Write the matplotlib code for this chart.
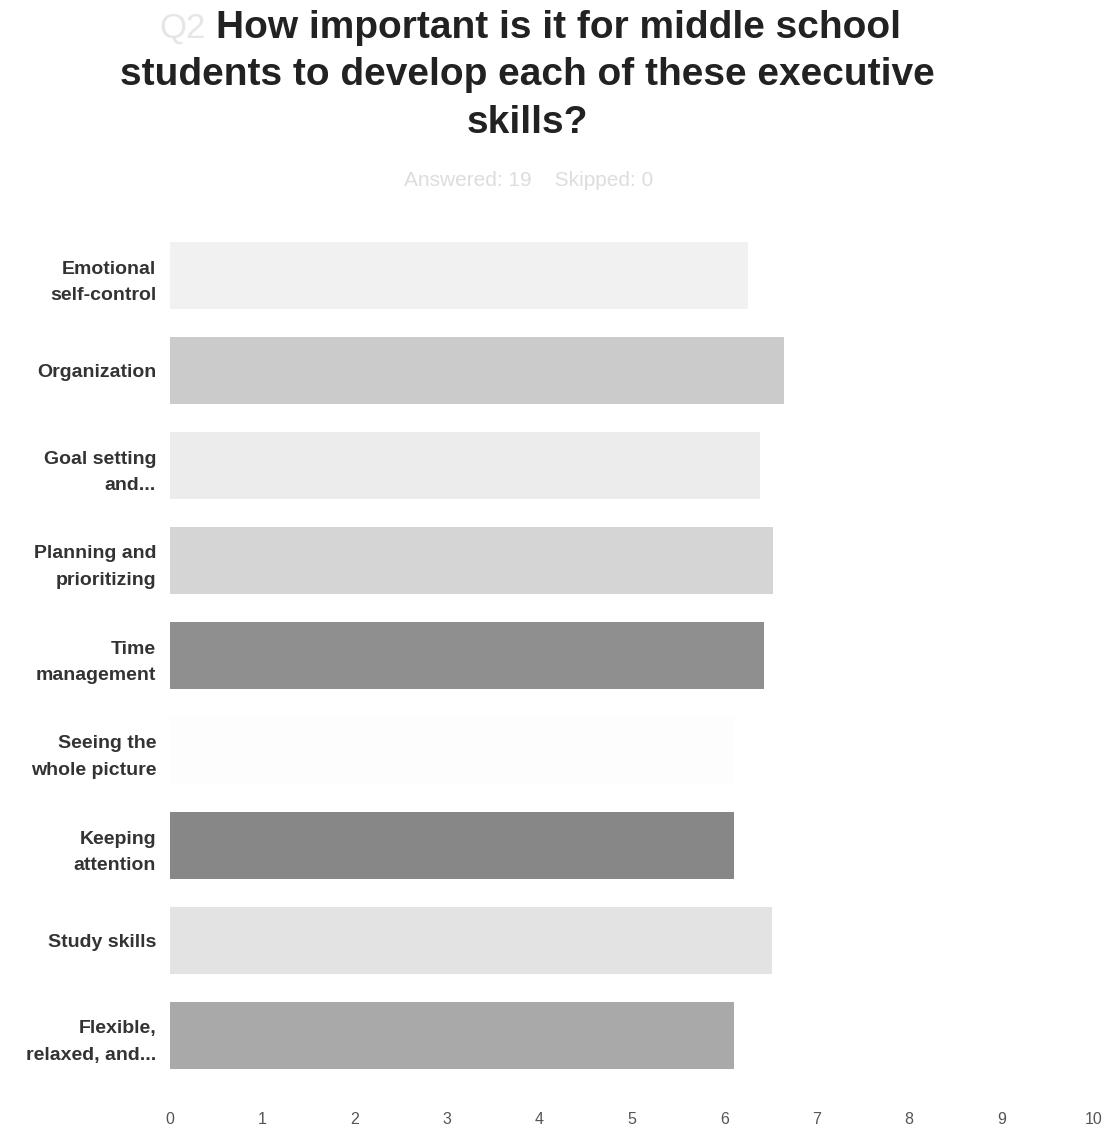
import matplotlib
matplotlib.use("Agg")
import matplotlib.pyplot as plt

categories = ["Emotional\nself-control", "Organization", "Goal setting\nand...",
              "Planning and\nprioritizing", "Time\nmanagement", "Seeing the\nwhole picture",
              "Keeping\nattention", "Study skills", "Flexible,\nrelaxed, and..."]
values = [6.25, 6.64, 6.38, 6.53, 6.43, 6.10, 6.10, 6.52, 6.10]
colors = ["#f1f1f1", "#cbcbcb", "#ececec", "#d5d5d5", "#8f8f8f", "#fdfdfd",
          "#878787", "#e3e3e3", "#a9a9a9"]
xticks = [0, 1, 2, 3, 4, 5, 6, 7, 8, 9, 10]

plt.rcParams['font.family'] = ['Liberation Sans', 'DejaVu Sans']

W, H = 1113, 1129
fig = plt.figure(figsize=(W / 100, H / 100), dpi=100)
ax = fig.add_axes([170 / W, 1 - 1083 / H, (1094 - 170) / W, (1083 - 228) / H])

y = list(range(len(categories)))
ax.barh(y, values, height=0.7, color=colors, edgecolor='none')
ax.set_ylim(len(categories) - 0.5, -0.5)
ax.set_xlim(0, 10)
ax.set_yticks(y)
ax.set_yticklabels(categories, fontsize=14, fontweight='bold', color='#333333',
                   linespacing=1.75)
ax.set_xticks(xticks)
ax.set_xticklabels([str(t) for t in xticks], fontsize=11.5, color='#555555')
ax.tick_params(axis='y', length=0, pad=10)
ax.tick_params(axis='x', length=0, pad=21)
for s in ax.spines.values():
    s.set_visible(False)

# title
fig.text(559 / W, 1 - 28 / H, "How important is it for middle school", ha='center', va='center',
         fontsize=28, fontweight='bold', color='#222222')
fig.text(183 / W, 1 - 28 / H, "Q2", ha='center', va='center', fontsize=25, color='#e6e6e6')
fig.text(527 / W, 1 - 75 / H, "students to develop each of these executive", ha='center',
         va='center', fontsize=28, fontweight='bold', color='#222222')
fig.text(527 / W, 1 - 123 / H, "skills?", ha='center', va='center', fontsize=28,
         fontweight='bold', color='#222222')
fig.text(529 / W, 1 - 180 / H, "Answered: 19    Skipped: 0", ha='center', va='center',
         fontsize=15, color='#dddddd')

fig.savefig("out.png", dpi=100)
